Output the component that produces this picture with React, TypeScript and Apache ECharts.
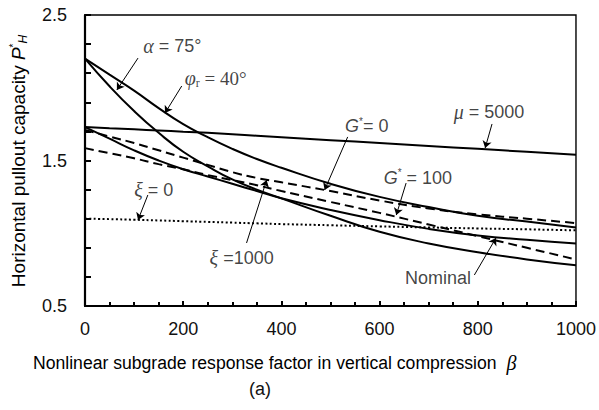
import React, { useEffect, useRef } from "react";
import * as echarts from "echarts";

// ---- data ----
const BETA = [0, 50, 100, 150, 200, 250, 300, 350, 400, 500, 600, 700, 800, 900, 1000];
const ALPHA_75 = [2.2, 2.01, 1.84, 1.69, 1.56, 1.46, 1.37, 1.3, 1.24, 1.12, 1.01, 0.93, 0.87, 0.82, 0.78];
const PHI_40 = [2.2, 2.09, 1.98, 1.86, 1.75, 1.66, 1.58, 1.51, 1.45, 1.34, 1.25, 1.18, 1.12, 1.08, 1.04];
const MU_5000 = [1.73, 1.722, 1.714, 1.706, 1.698, 1.69, 1.68, 1.67, 1.66, 1.64, 1.62, 1.6, 1.58, 1.56, 1.54];
const NOMINAL = [1.73, 1.65, 1.57, 1.5, 1.44, 1.39, 1.34, 1.29, 1.24, 1.16, 1.09, 1.03, 0.985, 0.955, 0.93];
const G_0 = [1.71, 1.665, 1.62, 1.57, 1.52, 1.47, 1.42, 1.38, 1.35, 1.29, 1.225, 1.17, 1.13, 1.1, 1.07];
const G_100 = [1.585, 1.55, 1.515, 1.475, 1.44, 1.4, 1.365, 1.33, 1.29, 1.215, 1.14, 1.06, 0.98, 0.9, 0.82];
const XI_0 = [1.1, 1.097, 1.093, 1.088, 1.083, 1.078, 1.073, 1.068, 1.063, 1.055, 1.047, 1.04, 1.033, 1.027, 1.02];

const X_TICKS = [0, 200, 400, 600, 800, 1000];
const Y_TICK_LABELS = ["0.5", "1.5", "2.5"];
const Y_MIN = 0.5;
const Y_MAX = 2.5;

// annotation labels: [beta, P, rich text]
const LABELS: [number, number, string][] = [
  [178, 2.287, "{gi|α}{t| = 75°}"],
  [266, 2.067, "{gi|φ}{sub|r}{s| = 40°}"],
  [823, 1.833, "{gi|μ}{t| = 5000}"],
  [574, 1.737, "{it|G}{sup|*}{t|= 0}"],
  [678, 1.38, "{it|G}{sup|*}{t| = 100}"],
  [140, 1.297, "{gi|ξ}{t| = 0}"],
  [319, 0.83, "{gi|ξ}{t| =1000}"],
  [719, 0.692, "{t|Nominal}"],
];
// arrows: [beta1, P1, beta2, P2] (arrow head at the second point)
const ARROWS: [number, number, number, number][] = [
  [108, 2.204, 65, 1.985],
  [197, 2.012, 163, 1.826],
  [829, 1.751, 815, 1.586],
  [535, 1.662, 488, 1.297],
  [654, 1.345, 634, 1.125],
  [128, 1.263, 108, 1.091],
  [329, 0.933, 370, 1.366],
  [793, 0.713, 837, 0.967],
];

const SANS = "'Liberation Sans', Arial, sans-serif";
const SERIF = "'Liberation Serif', 'Times New Roman', serif";

const rich = {
  t: { fontFamily: SANS, fontSize: 18, color: "#111" },
  s: { fontFamily: SERIF, fontSize: 19, color: "#111" },
  gi: { fontFamily: SERIF, fontStyle: "italic", fontSize: 20, color: "#111" },
  it: { fontFamily: SANS, fontStyle: "italic", fontSize: 18, color: "#111" },
  sup: { fontFamily: SANS, fontSize: 10, color: "#111", padding: [0, 0, 10, 0] },
  sub: { fontFamily: SERIF, fontSize: 12, color: "#111", padding: [9, 0, 0, 0] },
};

export default function App() {
  const ref = useRef<HTMLDivElement>(null);
  useEffect(() => {
    document.body.style.margin = "0";
    const chart = echarts.init(ref.current!, null, { renderer: "svg" });
    const toData = (vals: number[]) => BETA.map((b, i) => [b, vals[i] - Y_MIN]);
    const curve = (name: string, vals: number[], type: string, width = 2) => ({
      name,
      type: "line",
      data: toData(vals),
      smooth: 0.5,
      showSymbol: false,
      symbol: "none",
      lineStyle: {
        color: "#000",
        width,
        type: type === "dashed" ? [9, 5] : type === "dotted" ? [2, 2.4] : "solid",
      },
      z: 3,
    });
    chart.setOption({
      animation: false,
      grid: { left: 85, right: 22, top: 15, bottom: 104, show: true, borderColor: "#000", borderWidth: 1.4 },
      xAxis: {
        type: "value",
        min: 0,
        max: 1000,
        interval: 200,
        axisLine: { show: true, lineStyle: { color: "#000", width: 2.2 } },
        axisTick: { show: true, inside: true, length: 5, lineStyle: { color: "#000", width: 2 } },
        minorTick: { show: true, splitNumber: 4, length: 4, lineStyle: { color: "#000", width: 2 } },
        splitLine: { show: false },
        axisLabel: {
          margin: 14,
          fontFamily: SANS,
          fontSize: 18,
          color: "#111",
          formatter: (v: number) => (X_TICKS.includes(Math.round(v)) ? String(Math.round(v)) : ""),
        },
      },
      yAxis: {
        type: "value",
        min: 0,
        max: Y_MAX - Y_MIN,
        interval: 1,
        axisLine: { show: true, lineStyle: { color: "#000", width: 2.2 } },
        axisTick: { show: true, inside: true, length: 6, lineStyle: { color: "#000", width: 2 } },
        minorTick: { show: true, splitNumber: 5, length: 6, lineStyle: { color: "#000", width: 2 } },
        splitLine: { show: false },
        axisLabel: {
          margin: 18,
          fontFamily: SANS,
          fontSize: 18,
          color: "#111",
          formatter: (v: number) => {
            const k = Math.round(v);
            return Math.abs(v - k) < 1e-6 ? Y_TICK_LABELS[k] ?? "" : "";
          },
        },
      },
      series: [
        curve("α = 75°", ALPHA_75, "solid"),
        curve("φr = 40°", PHI_40, "solid"),
        curve("μ = 5000", MU_5000, "solid"),
        curve("Nominal", NOMINAL, "solid"),
        curve("G* = 0", G_0, "dashed"),
        curve("G* = 100", G_100, "dashed"),
        curve("ξ = 0", XI_0, "dotted", 2),
        {
          type: "lines",
          coordinateSystem: "cartesian2d",
          symbol: ["none", "arrow"],
          symbolSize: 7,
          lineStyle: { color: "#000", width: 1, opacity: 1 },
          data: ARROWS.map((a) => ({ coords: [[a[0], a[1] - Y_MIN], [a[2], a[3] - Y_MIN]] })),
          z: 4,
        },
        {
          type: "scatter",
          symbolSize: 0,
          data: LABELS.map((l) => ({ value: [l[0], l[1] - Y_MIN], label: { formatter: l[2] } })),
          label: { show: true, position: "inside", rich },
          z: 5,
        },
      ],
      graphic: [
        {
          type: "text",
          x: 18,
          y: 161,
          rotation: Math.PI / 2,
          style: {
            text: "{t|Horizontal pullout capacity }{it|P}{sup|*}{subs|H}",
            align: "center",
            verticalAlign: "middle",
            rich: {
              ...rich,
              t: { fontFamily: SANS, fontSize: 19, color: "#111" },
              it: { fontFamily: SANS, fontStyle: "italic", fontSize: 19, color: "#111" },
              subs: { fontFamily: SANS, fontStyle: "italic", fontSize: 12, color: "#111", padding: [9, 0, 0, 0] },
            },
          },
        },
        {
          type: "text",
          x: 33,
          y: 363,
          style: {
            text: "{t|Nonlinear subgrade response factor in vertical compression }{b|β}",
            align: "left",
            verticalAlign: "middle",
            rich: {
              ...rich,
              t: { fontFamily: SANS, fontSize: 17.6, color: "#111" },
              b: { fontFamily: SERIF, fontStyle: "italic", fontSize: 20, color: "#111", padding: [0, 0, 0, 5] },
            },
          },
        },
        {
          type: "text",
          x: 260,
          y: 389,
          style: { text: "(a)", align: "center", verticalAlign: "middle", fontFamily: SANS, fontSize: 18, fill: "#111" },
        },
      ],
    });
    return () => chart.dispose();
  }, []);
  return <div ref={ref} style={{ width: 599, height: 410 }} />;
}
